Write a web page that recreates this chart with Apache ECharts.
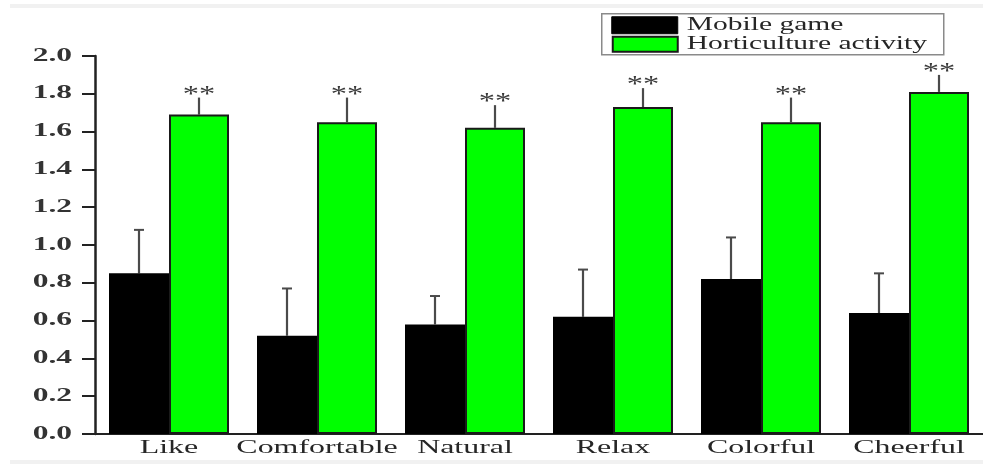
<!DOCTYPE html>
<html>
<head>
<meta charset="utf-8">
<script src="https://cdn.jsdelivr.net/npm/echarts@6/dist/echarts.min.js"></script>
<style>
  html, body { margin: 0; padding: 0; background: #fff; }
  #chart { width: 983px; height: 464px; }
</style>
</head>
<body>
<div id="chart"></div>
<script>
// Emotional ratings per descriptor, two activity groups
const categories = ['Like', 'Comfortable', 'Natural', 'Relax', 'Colorful', 'Cheerful'];
const seriesNames = ['Mobile game', 'Horticulture activity'];
const mobileGame = [0.85, 0.52, 0.58, 0.62, 0.82, 0.64];
const mobileGameErr = [0.23, 0.25, 0.15, 0.25, 0.22, 0.21];
const horticulture = [1.69, 1.65, 1.62, 1.73, 1.65, 1.81];
const horticultureErr = [0.09, 0.13, 0.12, 0.10, 0.13, 0.09];
const significance = ['**', '**', '**', '**', '**', '**'];
const yTickLabels = ['0.0', '0.2', '0.4', '0.6', '0.8', '1.0', '1.2', '1.4', '1.6', '1.8', '2.0'];
const Y_MIN = 0, Y_MAX = 2.0, Y_STEP = 0.2;

const SERIF = '"Liberation Serif", "DejaVu Serif", serif';
const TEXT = '#262626';
const BAR_W = 60;
const WIDE = 1.68;   // horizontal stretch of the wide typeface

const chart = echarts.init(document.getElementById('chart'), null, { renderer: 'canvas' });

// Upward-only error whiskers; offset: -1 left bar, +1 right bar
function errorSeries(name, values, errs, offset, withCap, marks) {
  return {
    type: 'custom',
    name: name + ' error',
    z: 1,
    data: values.map((v, i) => [i, v, v + errs[i]]),
    renderItem: function (params, api) {
      const base = api.coord([api.value(0), api.value(1)]);
      const top = api.coord([api.value(0), api.value(2)]);
      const x = base[0] + offset * BAR_W / 2;
      const children = [{
        type: 'line',
        shape: { x1: x, y1: base[1], x2: x, y2: top[1] },
        style: { stroke: '#4a4a4a', lineWidth: 2.2 }
      }];
      if (withCap) {
        children.push({
          type: 'line',
          shape: { x1: x - 5, y1: top[1], x2: x + 5, y2: top[1] },
          style: { stroke: '#4a4a4a', lineWidth: 2 }
        });
      }
      if (marks) {
        children.push({
          type: 'text',
          x: x,
          y: top[1] + 9,
          scaleX: 1.35,
          style: {
            text: marks[params.dataIndex],
            fontFamily: SERIF,
            fontSize: 24,
            fill: '#3a3a3a',
            align: 'center',
            verticalAlign: 'bottom'
          }
        });
      }
      return { type: 'group', children: children };
    }
  };
}

// Category names under the axis, set in a wide serif
const categoryLabelSeries = {
  type: 'custom',
  name: 'category labels',
  silent: true,
  data: categories.map((c, i) => [i, 0]),
  renderItem: function (params, api) {
    const p = api.coord([api.value(0), 0]);
    return {
      type: 'text',
      x: p[0],
      y: p[1] + 5,
      scaleX: WIDE,
      style: {
        text: categories[params.dataIndex],
        fontFamily: SERIF, fontSize: 19, fill: TEXT,
        align: 'center', verticalAlign: 'top'
      }
    };
  }
};

// Value tick labels left of the y axis
const valueLabelSeries = {
  type: 'custom',
  name: 'value labels',
  silent: true,
  data: yTickLabels.map(t => [0, parseFloat(t)]),
  renderItem: function (params, api) {
    const p = api.coord([0, api.value(1)]);
    return {
      type: 'text',
      x: params.coordSys.x - 23,
      y: p[1],
      scaleX: 1.75,
      style: {
        text: yTickLabels[params.dataIndex],
        fontFamily: SERIF, fontSize: 18, fontWeight: 'bold', fill: '#333',
        align: 'right', verticalAlign: 'middle'
      }
    };
  }
};

// Boxed legend: swatches plus wide serif names
const legendGraphic = {
  type: 'group',
  left: 601,
  top: 13,
  children: [
    { type: 'rect', shape: { x: 0, y: 0, width: 342, height: 41 },
      style: { fill: '#fff', stroke: '#8a8a8a', lineWidth: 1.5 } },
    { type: 'rect', shape: { x: 10, y: 3, width: 66, height: 17 },
      style: { fill: '#000', stroke: '#000', lineWidth: 1 } },
    { type: 'rect', shape: { x: 11, y: 23, width: 65, height: 15 },
      style: { fill: '#00ff00', stroke: '#1a1a1a', lineWidth: 2 } },
    { type: 'text', x: 85, y: 12, scaleX: 1.64,
      style: { text: seriesNames[0], fontFamily: SERIF, fontSize: 18, fill: TEXT,
               align: 'left', verticalAlign: 'middle' } },
    { type: 'text', x: 85, y: 31, scaleX: 1.64,
      style: { text: seriesNames[1], fontFamily: SERIF, fontSize: 18, fill: TEXT,
               align: 'left', verticalAlign: 'middle' } }
  ]
};

chart.setOption({
  backgroundColor: '#fff',
  animation: false,
  graphic: [
    { type: 'rect', shape: { x: 10, y: 4, width: 973, height: 4 }, style: { fill: '#f1f1f1' }, z: -10 },
    { type: 'rect', shape: { x: 10, y: 460, width: 973, height: 4 }, style: { fill: '#f1f1f1' }, z: -10 },
    legendGraphic
  ],
  grid: { left: 95, right: -6, top: 56, bottom: 30, containLabel: false },
  xAxis: {
    type: 'category',
    data: categories,
    axisLine: { lineStyle: { color: '#222', width: 2 } },
    axisTick: { show: false },
    axisLabel: { show: false },
    splitLine: { show: false }
  },
  yAxis: {
    type: 'value',
    min: Y_MIN,
    max: Y_MAX,
    interval: Y_STEP,
    axisLine: { show: true, lineStyle: { color: '#222', width: 2.5 } },
    axisTick: { show: true, length: 13, lineStyle: { color: '#222', width: 2 } },
    axisLabel: { show: false },
    splitLine: { show: false }
  },
  series: [
    {
      name: seriesNames[0],
      type: 'bar',
      data: mobileGame,
      barWidth: BAR_W,
      barGap: '0%',
      z: 2,
      itemStyle: { color: '#000', borderColor: '#000', borderWidth: 1.5 }
    },
    {
      name: seriesNames[1],
      type: 'bar',
      data: horticulture,
      barWidth: BAR_W,
      barGap: '0%',
      z: 2,
      itemStyle: { color: '#00ff00', borderColor: '#1a1a1a', borderWidth: 2 }
    },
    errorSeries(seriesNames[0], mobileGame, mobileGameErr, -1, true, null),
    errorSeries(seriesNames[1], horticulture, horticultureErr, 1, false, significance),
    categoryLabelSeries,
    valueLabelSeries
  ]
});
</script>
</body>
</html>
